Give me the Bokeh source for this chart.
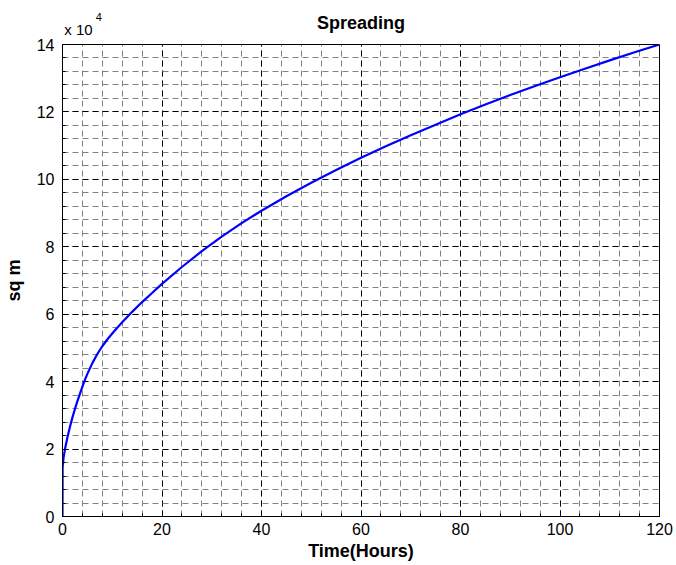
from bokeh.plotting import figure
from bokeh.models import Range1d, SingleIntervalTicker, FixedTicker, LinearAxis
from bokeh.embed import file_html
from bokeh.resources import INLINE

# Data (area in square metres vs time in hours)
time_hours = [0, 0.02, 0.2, 0.5, 1, 1.5, 2, 2.5, 3, 3.5, 4, 4.5, 5, 6, 7, 8,
              9, 10, 11, 12, 14, 16, 18, 20, 24, 28, 32, 36, 40, 45, 50, 55,
              60, 65, 70, 75, 80, 85, 90, 95, 100, 105, 110, 115, 120]
area_sqm = [0, 14500, 17300, 20000, 23500, 26600, 29400, 31900, 34200, 36400,
            38500, 40500, 42300, 45500, 48200, 50500, 52500, 54300, 56000,
            57600, 60700, 63600, 66300, 69000, 74000, 78700, 83000, 87000,
            90700, 95000, 99000, 102800, 106400, 109800, 113100, 116200,
            119300, 122200, 125000, 127700, 130300, 132800, 135300, 137700,
            140000]

x_ticks = [0, 20, 40, 60, 80, 100, 120]
y_ticks = [0, 20000, 40000, 60000, 80000, 100000, 120000, 140000]
y_tick_labels = ["0", "2", "4", "6", "8", "10", "12", "14"]

title_text = "Spreading"
x_label = "Time(Hours)"
y_label = "sq m"
exp_base = "x 10"
exp_power = "4"

FONT = "Liberation Sans"

p = figure(width=676, height=565, output_backend="svg", toolbar_location=None,
           x_range=Range1d(0, 120), y_range=Range1d(0, 140000),
           min_border_left=61, min_border_right=17, min_border_top=44,
           min_border_bottom=49, background_fill_color="white",
           border_fill_color="white", title_location=None)

p.line(time_hours, area_sqm, line_color="#0000ff", line_width=2.2,
       line_join="round")

p.xaxis.ticker = SingleIntervalTicker(interval=20, num_minor_ticks=5)
p.yaxis.ticker = SingleIntervalTicker(interval=20000, num_minor_ticks=5)
p.yaxis.major_label_overrides = {v: s for v, s in zip(y_ticks, y_tick_labels)}
p.xaxis.major_label_overrides = {v: str(v) for v in x_ticks}

for ax in (p.xaxis[0], p.yaxis[0]):
    ax.axis_line_color = "black"
    ax.major_tick_in = 6
    ax.major_tick_out = 0
    ax.minor_tick_in = 3
    ax.minor_tick_out = 0
    ax.major_tick_line_color = "black"
    ax.minor_tick_line_color = "black"
    ax.major_label_text_font = FONT
    ax.major_label_text_font_size = "16px"
    ax.major_label_text_color = "black"
    ax.axis_label_text_font = FONT
    ax.axis_label_text_font_size = "18px"
    ax.axis_label_text_font_style = "bold"
    ax.axis_label_text_color = "black"

p.xaxis.axis_label = x_label
p.yaxis.axis_label = y_label
p.xaxis.major_label_standoff = 6
p.yaxis.major_label_standoff = 8
p.xaxis.axis_label_standoff = 3
p.yaxis.axis_label_standoff = 10

for g in (p.xgrid[0], p.ygrid[0]):
    g.grid_line_color = "black"
    g.grid_line_dash = "6 4"
    g.grid_line_width = 1
    g.grid_line_alpha = 1.0
    g.minor_grid_line_color = "#808080"
    g.minor_grid_line_dash = "6 4"
    g.minor_grid_line_width = 1

p.outline_line_color = "black"
p.outline_line_width = 1


def header_axis(tick, text, size, standoff):
    ax = LinearAxis(ticker=FixedTicker(ticks=[tick]),
                    major_label_overrides={tick: text})
    ax.axis_line_color = None
    ax.major_tick_line_color = None
    ax.minor_tick_line_color = None
    ax.major_tick_in = 0
    ax.major_tick_out = 0
    ax.minor_tick_in = 0
    ax.minor_tick_out = 0
    ax.major_label_text_font = FONT
    ax.major_label_text_font_size = size
    ax.major_label_text_color = "black"
    ax.major_label_standoff = standoff
    return ax


# "x 10" multiplier (nearest the frame)
ax_a = header_axis(3.2, exp_base, "15px", 7)
p.add_layout(ax_a, "above")

# superscript "4" plus the chart title as this axis' label
ax_b = header_axis(7.3, exp_power, "11px", -3)
ax_b.axis_label = title_text
ax_b.axis_label_text_font = FONT
ax_b.axis_label_text_font_size = "18px"
ax_b.axis_label_text_font_style = "bold"
ax_b.axis_label_text_color = "black"
ax_b.axis_label_standoff = -23
p.add_layout(ax_b, "above")

open("out.html", "w").write(file_html(p, INLINE))
